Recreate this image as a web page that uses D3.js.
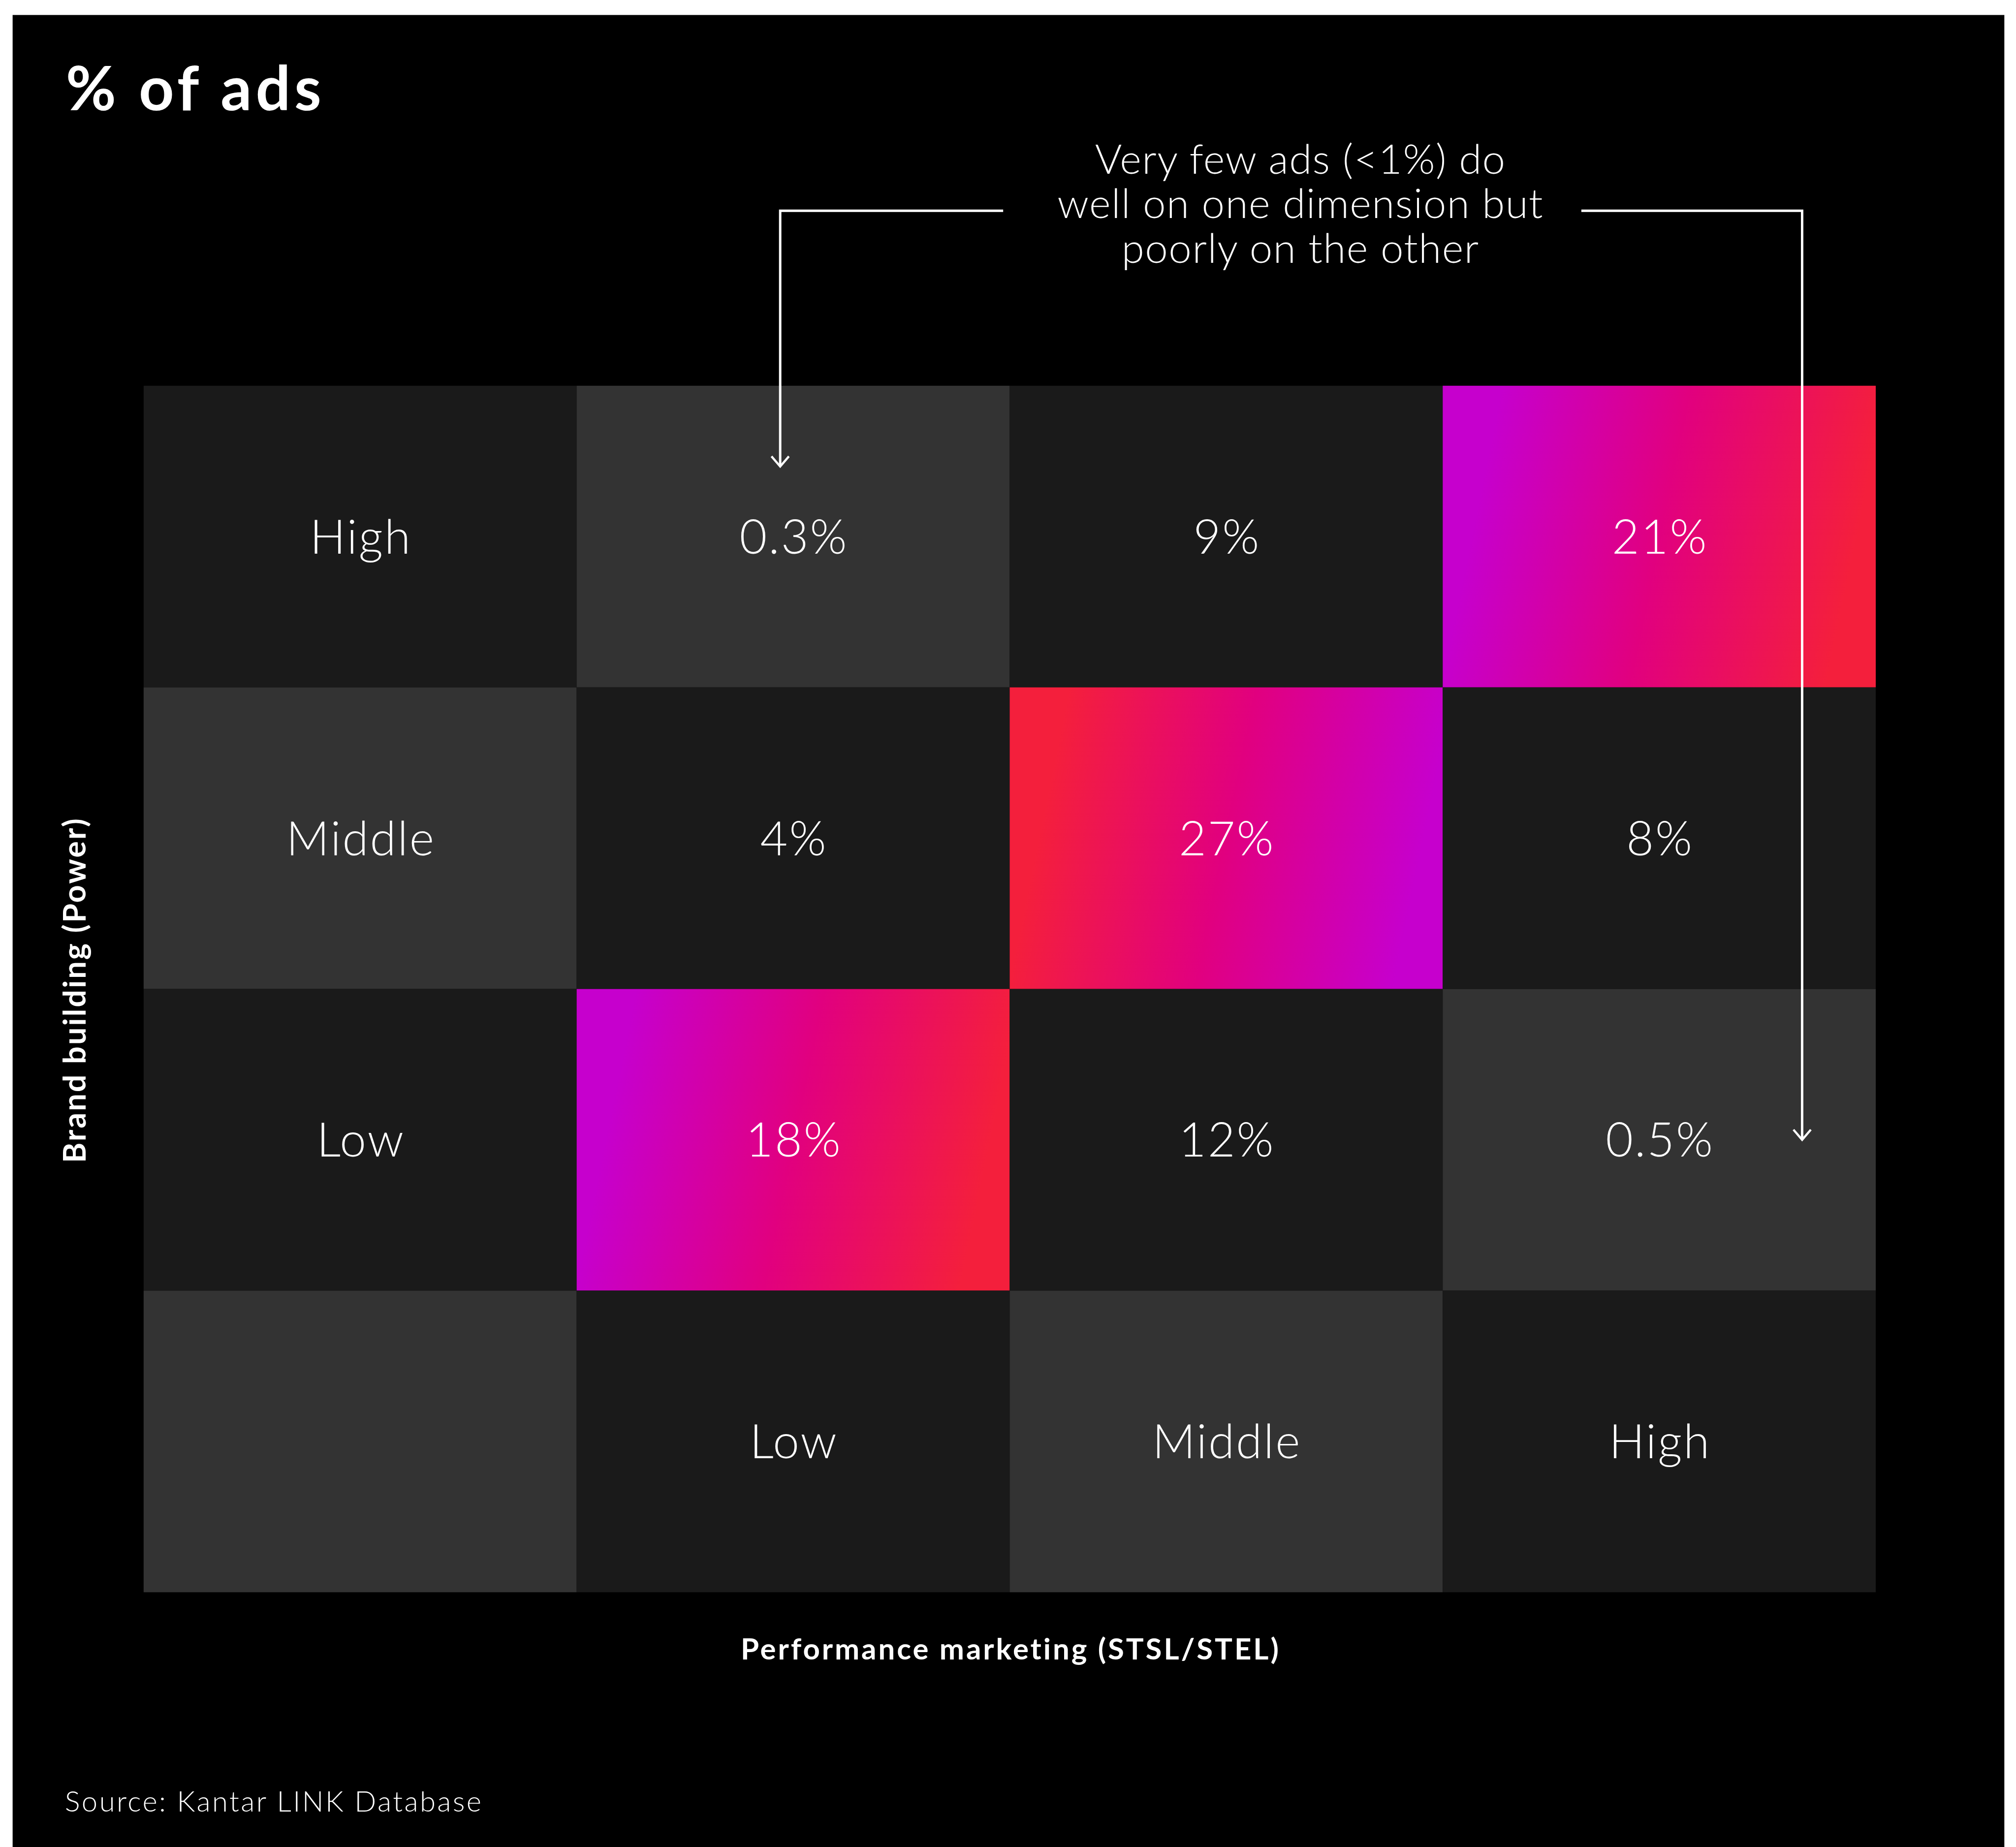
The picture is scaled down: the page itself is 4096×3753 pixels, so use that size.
<!DOCTYPE html>
<html>
<head>
<meta charset="utf-8">
<script src="https://cdn.jsdelivr.net/npm/d3@7"></script>
<style>
  html, body { margin: 0; padding: 0; background: #ffffff; }
  svg { display: block; }
</style>
</head>
<body>
<script>
// ---- data ----
const brandLevels = ["High", "Middle", "Low"];          // rows (Brand building, Power)
const perfLevels = ["Low", "Middle", "High"];           // columns (Performance marketing)
const shareHigh = [0.3, 9, 21];                         // % of ads, brand = High
const shareMiddle = [4, 27, 8];                         // % of ads, brand = Middle
const shareLow = [18, 12, 0.5];                         // % of ads, brand = Low
const titleText = "% of ads";
const yTitle = "Brand building (Power)";
const xTitle = "Performance marketing (STSL/STEL)";
const noteLines = ["Very few ads (<1%) do", "well on one dimension but", "poorly on the other"];
const sourceText = "Source: Kantar LINK Database";

const shares = [shareHigh, shareMiddle, shareLow];

// ---- layout (reference pixel space, scaled by viewBox) ----
const W = 4170, H = 3821;
const svg = d3.select("body").append("svg")
  .attr("width", 4096).attr("height", 3753)
  .attr("viewBox", `0 0 ${W} ${H}`);

const LIGHT = "Lato, 'Open Sans', 'Noto Sans', sans-serif";

svg.append("rect").attr("x", 0).attr("y", 0).attr("width", W).attr("height", H).attr("fill", "#ffffff");
svg.append("rect").attr("x", 26).attr("y", 31).attr("width", 4146 - 26).attr("height", H - 31).attr("fill", "#000000");

const colKeys = ["axis"].concat(perfLevels);
const rowKeys = brandLevels.concat(["axis"]);
const x = d3.scaleBand().domain(colKeys).range([297, 3880]).padding(0);
const y = d3.scaleBand().domain(rowKeys).range([798, 3294]).padding(0);
const bw = x.bandwidth(), bh = y.bandwidth();

const defs = svg.append("defs");
const magenta = "#c600cd", mid = "#e1007f", red = "#f41f3c";

// build cells
const cells = [];
rowKeys.forEach((rk, ri) => {
  colKeys.forEach((ck, ci) => {
    let label = "", kind = ((ri + ci) % 2 === 1) ? "light" : "dark";
    if (ck === "axis" && rk !== "axis") label = rk;
    else if (rk === "axis" && ck !== "axis") label = ck;
    else if (rk !== "axis" && ck !== "axis") {
      const v = shares[ri][ci - 1];
      label = v + "%";
      if (v === d3.max(shares[ri])) kind = "grad";
    }
    cells.push({ rk, ck, ri, ci, label, kind });
  });
});

// gradients (userSpace per cell, slightly tilted diagonal)
const theta = 11.6 * Math.PI / 180;
cells.filter(d => d.kind === "grad").forEach((d, i) => {
  const x0 = x(d.ck), y0 = y(d.rk);
  const L = bw * Math.cos(theta) + bh * Math.sin(theta);
  const reverse = d.rk === "Middle";
  const g = defs.append("linearGradient")
    .attr("id", "g" + i)
    .attr("gradientUnits", "userSpaceOnUse")
    .attr("x1", x0).attr("y1", y0)
    .attr("x2", x0 + L * Math.cos(theta)).attr("y2", y0 + L * Math.sin(theta));
  const stops = reverse ? [red, mid, magenta] : [magenta, mid, red];
  g.append("stop").attr("offset", 0.12).attr("stop-color", stops[0]);
  g.append("stop").attr("offset", 0.5).attr("stop-color", stops[1]);
  g.append("stop").attr("offset", 0.9).attr("stop-color", stops[2]);
  d.fill = `url(#g${i})`;
});
cells.forEach(d => { if (d.kind === "light") d.fill = "#333333"; else if (d.kind === "dark") d.fill = "#1a1a1a"; });

const cg = svg.append("g");
cg.selectAll("rect").data(cells).join("rect")
  .attr("x", d => x(d.ck)).attr("y", d => y(d.rk))
  .attr("width", bw).attr("height", bh)
  .attr("fill", d => d.fill);

cg.selectAll("text").data(cells.filter(d => d.label)).join("text")
  .attr("x", d => x(d.ck) + bw / 2 + 1.5)
  .attr("y", d => y(d.rk) + bh / 2 + 35)
  .attr("text-anchor", "middle")
  .attr("fill", "#ffffff")
  .style("font-family", LIGHT).style("font-weight", 300)
  .style("font-size", "98px").style("letter-spacing", "3px")
  .text(d => d.label);

// title
svg.append("text").attr("x", 136).attr("y", 228)
  .attr("fill", "#fff").style("font-family", LIGHT).style("font-weight", 700)
  .style("font-size", "127px").style("letter-spacing", "8px").text(titleText);

// axis titles
svg.append("text")
  .attr("transform", `translate(177, ${(y.range()[0] + y.range()[1]) / 2 + 2}) rotate(-90)`)
  .attr("text-anchor", "middle").attr("fill", "#fff")
  .style("font-family", LIGHT).style("font-weight", 700).style("font-size", "64px")
  .style("letter-spacing", "3.2px")
  .text(yTitle);

svg.append("text")
  .attr("x", (x.range()[0] + x.range()[1]) / 2 + 2).attr("y", 3433)
  .attr("text-anchor", "middle").attr("fill", "#fff")
  .style("font-family", LIGHT).style("font-weight", 700).style("font-size", "61px")
  .style("letter-spacing", "4px")
  .text(xTitle);

// source
svg.append("text").attr("x", 134).attr("y", 3748)
  .attr("fill", "#fff").style("font-family", LIGHT).style("font-weight", 300)
  .style("font-size", "59px").style("letter-spacing", "3.5px").text(sourceText);

// annotation
const noteX = 2690;
const nt = svg.append("text").attr("text-anchor", "middle").attr("fill", "#fff")
  .style("font-family", LIGHT).style("font-weight", 300).style("font-size", "85px")
  .style("letter-spacing", "1.5px");
noteLines.forEach((t, i) => nt.append("tspan").attr("x", noteX).attr("y", 359 + i * 92.5).text(t));

const lineY = 436;
const leftX = x("Low") + bw * 0.47;
const rightX = x("High") + bw * 0.83;
const leftTip = y("High") + 167;
const rightTip = y("Low") + bh / 2;
const ann = svg.append("g").attr("fill", "none").attr("stroke", "#fff").attr("stroke-width", 5);
const line = d3.line();
ann.append("path").attr("d", line([[2075, lineY], [leftX, lineY], [leftX, leftTip]]));
ann.append("path").attr("d", line([[3271, lineY], [rightX, lineY], [rightX, rightTip]]));
[[leftX, leftTip], [rightX, rightTip]].forEach(([ax, ay]) => {
  ann.append("path").attr("stroke-width", 4.5)
    .attr("d", line([[ax - 18, ay - 21], [ax, ay], [ax + 18, ay - 21]]));
});
</script>
</body>
</html>
